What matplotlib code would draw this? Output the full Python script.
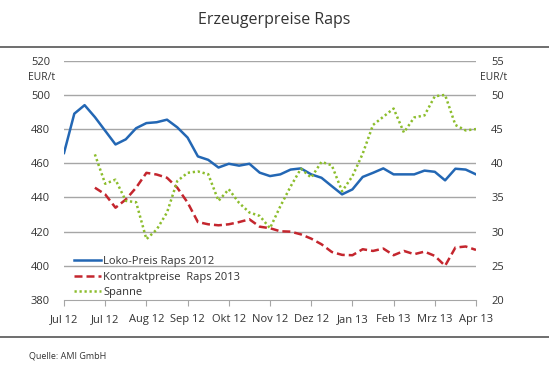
import matplotlib.pyplot as plt
from matplotlib.lines import Line2D

plt.rcParams['font.family'] = ['Open Sans', 'DejaVu Sans']

# weekly points, Jul 12 .. Apr 13 (41 weeks)
loko = [466, 489, 494, 487, 479, 471, 474, 480.5, 483.5, 484,
        485.5, 481, 475, 464, 462, 457.5, 459.7, 458.6, 459.7, 454.5,
        452.5, 453.5, 456.3, 457, 453.5, 451.5, 446.6, 441.8, 444.7, 452,
        454.4, 457, 453.5, 453.5, 453.5, 455.7, 455, 450, 456.8, 456.3,
        453.5]
# Kontraktpreise start in week 3
kontrakt = [445.7, 441.8, 434, 438.8, 445.7, 454.4, 453.4, 451.5, 445.7, 437,
            425.6, 424.3, 423.7, 424.3, 425.6, 427.2, 422.9, 422, 420.2, 420,
            418.4, 415.9, 412.6, 408.1, 406.4, 406.2, 409.7, 408.7, 410.1, 406.2,
            408.7, 406.8, 408.3, 405.8, 400, 410.7, 411.3, 409.3]
spanne = [41.3, 37.0, 37.6, 34.5, 34.3, 28.9, 30.3, 32.8, 37.4, 38.6,
          38.8, 38.4, 34.5, 36.2, 34.2, 32.8, 32.3, 30.5, 33.7, 36.6,
          39.2, 37.9, 40.2, 39.7, 35.9, 38.1, 41.4, 45.6, 46.8, 48.0,
          44.5, 46.7, 47.0, 49.8, 50.0, 45.6, 44.8, 45.0]
month_labels = ["Jul 12", "Jul 12", "Aug 12", "Sep 12", "Okt 12", "Nov 12",
                "Dez 12", "Jan 13", "Feb 13", "Mrz 13", "Apr 13"]

blue = '#2367b4'
red = '#c4262e'
green = '#8cbd2c'
grid = '#a6a6a6'
txt = '#333333'

fig = plt.figure(figsize=(5.49, 3.76), dpi=100)
ax = fig.add_axes([64/549, 1 - 300/376, 412/549, 239.3/376])
ax2 = ax.twinx()

x_loko = list(range(len(loko)))
x_k = list(range(3, 3 + len(kontrakt)))
x_s = list(range(3, 3 + len(spanne)))

ax.plot(x_loko, loko, color=blue, lw=1.8, solid_joinstyle='round', zorder=3)
ax.plot(x_k, kontrakt, color=red, lw=1.8, dashes=(3.2, 1.6), zorder=3)
ax2.plot(x_s, spanne, color=green, lw=1.8, dashes=(0.9, 1.1), zorder=3)

ax.set_xlim(0, 40)
ax.set_ylim(380, 520)
ax2.set_ylim(20, 55)
ax.set_yticks(range(380, 521, 20))
ax2.set_yticks(range(20, 56, 5))
ax.set_xticks(range(0, 41, 4))
ax.set_xticklabels(month_labels)

for y in range(400, 521, 20):
    ax.axhline(y, color=grid, lw=1, zorder=1)

for a in (ax, ax2):
    for s in ('top', 'left', 'right'):
        a.spines[s].set_visible(False)
    a.spines['bottom'].set_color(grid)
    a.tick_params(axis='y', length=0, labelsize=8, labelcolor=txt)
ax.tick_params(axis='y', pad=10)
ax2.tick_params(axis='y', pad=11)
ax.tick_params(axis='x', length=4, color=grid, labelsize=8, labelcolor=txt, pad=6)
ax2.spines['bottom'].set_visible(False)

fig.text(28/549, 1 - 77/376, 'EUR/t', fontsize=7.5, color=txt, va='center')
fig.text(480/549, 1 - 77/376, 'EUR/t', fontsize=7.5, color=txt, va='center')

handles = [Line2D([], [], color=blue, lw=1.8),
           Line2D([], [], color=red, lw=1.8, dashes=(3.2, 1.6)),
           Line2D([], [], color=green, lw=1.8, dashes=(0.9, 1.1))]
ax.legend(handles, ['Loko-Preis Raps 2012', 'Kontraktpreise  Raps 2013', 'Spanne'],
          loc='lower left', bbox_to_anchor=(0.0, -0.035), frameon=False,
          fontsize=8, handlelength=2.4, handletextpad=0.25, labelspacing=0.42,
          labelcolor=txt)

fig.text(0.5, 1 - 20/376, 'Erzeugerpreise Raps', ha='center', va='center',
         fontsize=11.5, color=txt)
fig.add_artist(Line2D([0, 1], [1 - 47/376, 1 - 47/376], color='#555555', lw=1.2))
fig.add_artist(Line2D([0, 1], [1 - 337/376, 1 - 337/376], color='#555555', lw=1.2))
fig.text(29/549, 1 - 356/376, 'Quelle: AMI GmbH', fontsize=6.5, color=txt, va='center')

fig.savefig('out.png', dpi=100)
